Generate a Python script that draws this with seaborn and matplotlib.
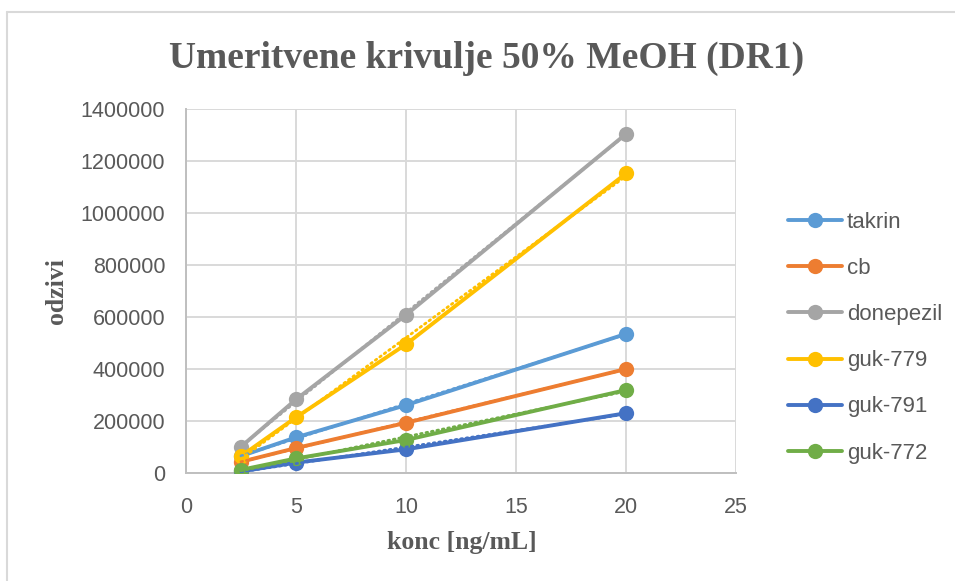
import numpy as np
import pandas as pd
import seaborn as sns
import matplotlib.pyplot as plt
from matplotlib.lines import Line2D

# Calibration data: response vs concentration
konc = [2.5, 5, 10, 20]
takrin = [65000, 137000, 261000, 535000]
cb = [43000, 96000, 193000, 400000]
donepezil = [101000, 283000, 608000, 1304000]
guk_779 = [65000, 214000, 495000, 1152000]
guk_791 = [6000, 40000, 91000, 230000]
guk_772 = [12000, 56000, 127000, 319000]

series_names = ["takrin", "cb", "donepezil", "guk-779", "guk-791", "guk-772"]
series_values = [takrin, cb, donepezil, guk_779, guk_791, guk_772]
colors = ["#5B9BD5", "#ED7D31", "#A5A5A5", "#FFC000", "#4472C4", "#70AD47"]

x_ticks = [0, 5, 10, 15, 20, 25]
y_ticks = [0, 200000, 400000, 600000, 800000, 1000000, 1200000, 1400000]

df = pd.DataFrame(
    [(name, x, y) for name, vals in zip(series_names, series_values)
     for x, y in zip(konc, vals)],
    columns=["serija", "konc", "odziv"],
)

sns.set_theme(style="white")
plt.rcParams["font.family"] = ["Liberation Sans", "DejaVu Sans"]

text_gray = "#595959"
grid_gray = "#D9D9D9"

fig = plt.figure(figsize=(9.55, 5.81), dpi=100)
ax = fig.add_axes([186 / 955, 1 - 473 / 581, (736 - 186) / 955, (473 - 109) / 581])

palette = dict(zip(series_names, colors))
sns.lineplot(
    data=df, x="konc", y="odziv", hue="serija", hue_order=series_names,
    palette=palette, marker="o", markersize=11, markeredgewidth=0,
    linewidth=2.8, ax=ax, zorder=3, legend=True,
)

# Linear trendlines (dotted) over each series' data range
for name, vals, col in zip(series_names, series_values, colors):
    sns.regplot(
        x=np.array(konc), y=np.array(vals), ax=ax, scatter=False, ci=None,
        truncate=True, color=col,
        line_kws=dict(linestyle=(0, (0.6, 1.4)), linewidth=2.0,
                      dash_capstyle="round", zorder=4),
    )

ax.set_xlim(0, 25)
ax.set_ylim(0, 1400000)
ax.set_xticks(x_ticks)
ax.set_yticks(y_ticks)
ax.set_xticklabels([str(v) for v in x_ticks])
ax.set_yticklabels([str(v) for v in y_ticks])
ax.tick_params(axis="both", length=0, labelsize=15.5, labelcolor=text_gray)
ax.tick_params(axis="y", pad=15)
ax.tick_params(axis="x", pad=17)

ax.grid(True, color=grid_gray, linewidth=1.4)
ax.set_axisbelow(True)
for side in ["top", "right"]:
    ax.spines[side].set_visible(False)
for side in ["left", "bottom"]:
    ax.spines[side].set_color("#BFBFBF")
    ax.spines[side].set_linewidth(1.4)

label_font = dict(family=["Liberation Serif", "DejaVu Serif"], weight="bold",
                  size=18.5, color=text_gray)
ax.set_xlabel("konc [ng/mL]", **label_font)
ax.set_ylabel("odzivi", **label_font)
ax.xaxis.set_label_coords((462 - 186) / 550, (473 - 543) / 364)
ax.xaxis.label.set_va("center")
ax.yaxis.set_label_coords((57 - 186) / 550, 0.5)
ax.yaxis.label.set_va("center")

fig.text(487 / 955, 1 - 58 / 581, "Umeritvene krivulje 50% MeOH (DR1)",
         ha="center", va="center", family=["Liberation Serif", "DejaVu Serif"],
         weight="bold", size=27, color=text_gray)

handles, labels = ax.get_legend_handles_labels()
handles, labels = handles[:len(series_names)], labels[:len(series_names)]
leg = fig.legend(
    handles, labels, loc="upper left", bbox_to_anchor=(788 / 955, 1 - 212 / 581),
    frameon=False, fontsize=16, handlelength=2.45, handletextpad=0.2,
    labelspacing=1.13, borderpad=0, borderaxespad=0,
)
for t in leg.get_texts():
    t.set_color(text_gray)
ax.get_legend().remove()

# Chart area border
fig.add_artist(Line2D([7 / 955, 1], [1 - 12 / 581, 1 - 12 / 581],
                      transform=fig.transFigure, color=grid_gray, linewidth=1.5))
fig.add_artist(Line2D([7 / 955, 7 / 955], [0, 1 - 12 / 581],
                      transform=fig.transFigure, color=grid_gray, linewidth=1.5))

fig.savefig("out.png", dpi=100, facecolor="white")
